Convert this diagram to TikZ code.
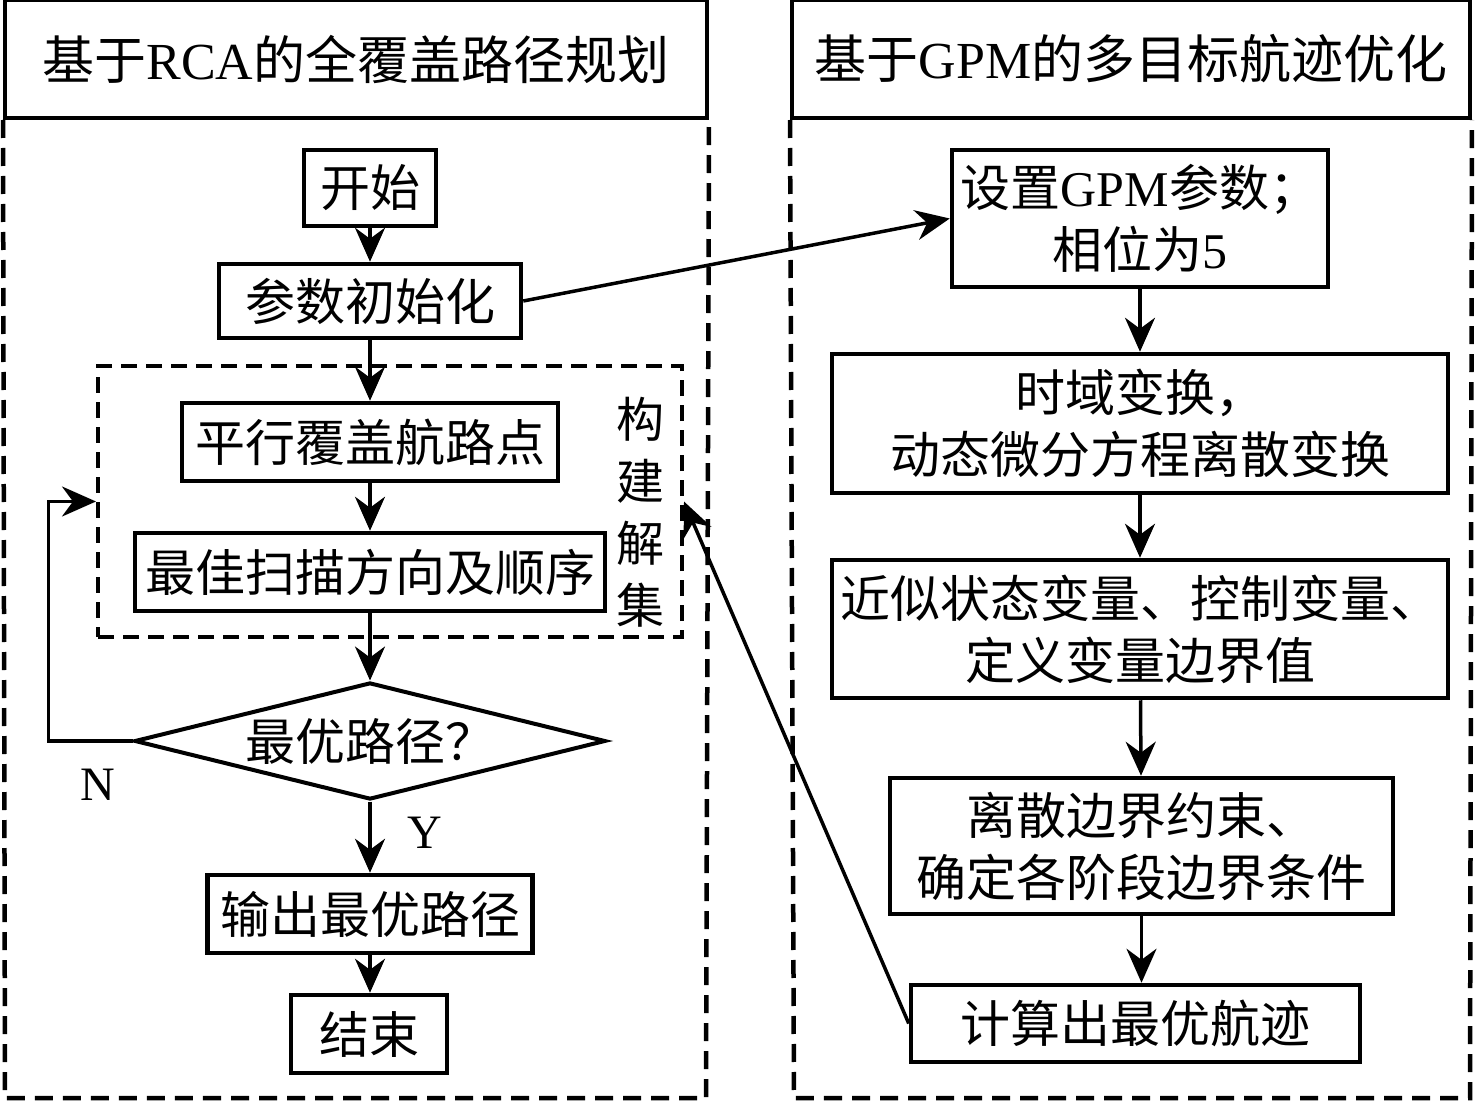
\documentclass[tikz,border=0pt]{standalone}
\usepackage{fontspec}
\setmainfont{Liberation Serif}
\newfontfamily\cjk{Noto Sans CJK SC}
\usetikzlibrary{arrows.meta,shapes.geometric}
\newcommand\zh[1]{{\cjk #1}}
\begin{document}
\begin{tikzpicture}[x=1pt,y=-1pt,
  box/.style={draw, line width=4.5pt, inner sep=0pt, align=center, font=\fontsize{50}{62}\selectfont},
  titlebox/.style={draw, line width=4pt, inner sep=0pt, align=center, font=\fontsize{52}{62}\selectfont},
  arr/.style={line width=3.5pt, -{Stealth[length=34pt,width=30pt,inset=11pt]}},
  outer/.style={line width=4.5pt, dash pattern=on 18pt off 10pt},
  lbl/.style={font=\fontsize{48}{60}\selectfont, inner sep=0pt}]
\useasboundingbox (0,0) rectangle (1476,1102);
% titles
\node[titlebox, minimum width=702pt, minimum height=118pt] (tl) at (356,59) {\zh{基于}RCA\zh{的全覆盖路径规划}};
\node[titlebox, minimum width=678pt, minimum height=118pt] (tr) at (1131,59) {\zh{基于}GPM\zh{的多目标航迹优化}};
% outer dashed frames
\coordinate (lbl1) at (5,1098);
\coordinate (lbr1) at (706,1098);
\coordinate (rbl1) at (794,1098);
\coordinate (rbr1) at (1470,1098);
\draw[outer] (tl.south west) -- (lbl1) -- (lbr1) -- (tl.south east);
\draw[outer] (tr.south west) -- (rbl1) -- (rbr1) -- (tr.south east);
% left column
\node[box, minimum width=132pt, minimum height=76pt] (start) at (370,188) {\zh{开始}};
\node[box, minimum width=302pt, minimum height=74pt] (init) at (370,301) {\zh{参数初始化}};
\node[draw, line width=4pt, dash pattern=on 16pt off 9pt, minimum width=584pt, minimum height=271pt, inner sep=0pt] (sol) at (390,501.5) {};
\node[box, minimum width=376pt, minimum height=78pt] (p1) at (370,442) {\zh{平行覆盖航路点}};
\node[box, minimum width=470pt, minimum height=78pt] (p2) at (370,572) {\zh{最佳扫描方向及顺序}};
\node[lbl, align=center, font=\fontsize{48}{62}\selectfont] (gj) at (640,512) {\zh{构}\\\zh{建}\\\zh{解}\\\zh{集}};
\node[diamond, draw, line width=4pt, shape aspect=4, minimum width=471pt, minimum height=117pt, inner sep=0pt, font=\fontsize{50}{62}\selectfont] (dia) at (370,741) {\zh{最优路径？}};
\node[lbl] (N) at (98,785) {N};
\node[lbl] (Y) at (425,833) {Y};
\node[box, minimum width=325pt, minimum height=78pt] (out) at (370,914) {\zh{输出最优路径}};
\node[box, minimum width=156pt, minimum height=78pt] (end) at (369,1034) {\zh{结束}};
% right column
\node[box, minimum width=376pt, minimum height=137pt] (s1) at (1140,218.5) {\zh{设置}GPM\zh{参数；}\\\zh{相位为}5};
\node[box, minimum width=616pt, minimum height=139pt] (s2) at (1140,423.5) {\zh{时域变换，}\\\zh{动态微分方程离散变换}};
\node[box, minimum width=616pt, minimum height=138pt] (s3) at (1140,629) {\zh{近似状态变量、控制变量、}\\\zh{定义变量边界值}};
\node[box, minimum width=503pt, minimum height=136pt] (s4) at (1141.5,846) {\zh{离散边界约束、}\\\zh{确定各阶段边界条件}};
\node[box, minimum width=449pt, minimum height=77pt] (s5) at (1135.5,1023.5) {\zh{计算出最优航迹}};
% connectors left
\draw[arr] (start) -- (init);
\draw[arr] (init) -- (p1);
\draw[arr] (p1) -- (p2);
\draw[arr] (p2) -- (dia);
\draw[arr] (dia) -- (out);
\draw[arr] (out) -- (out.south |- end.north);
\draw[arr] (dia.west) -- ++(-84,0) |- (sol.west);
% connectors right
\draw[arr] (s1) -- (s2);
\draw[arr] (s2) -- (s3);
\draw[arr] (s3) -- (s4);
\draw[arr] (s4) -- (s4.south |- s5.north);
% cross connectors
\draw[arr] (init.east) -- (s1.west);
\draw[arr] (s5.west) -- (sol.east);
\end{tikzpicture}
\end{document}
